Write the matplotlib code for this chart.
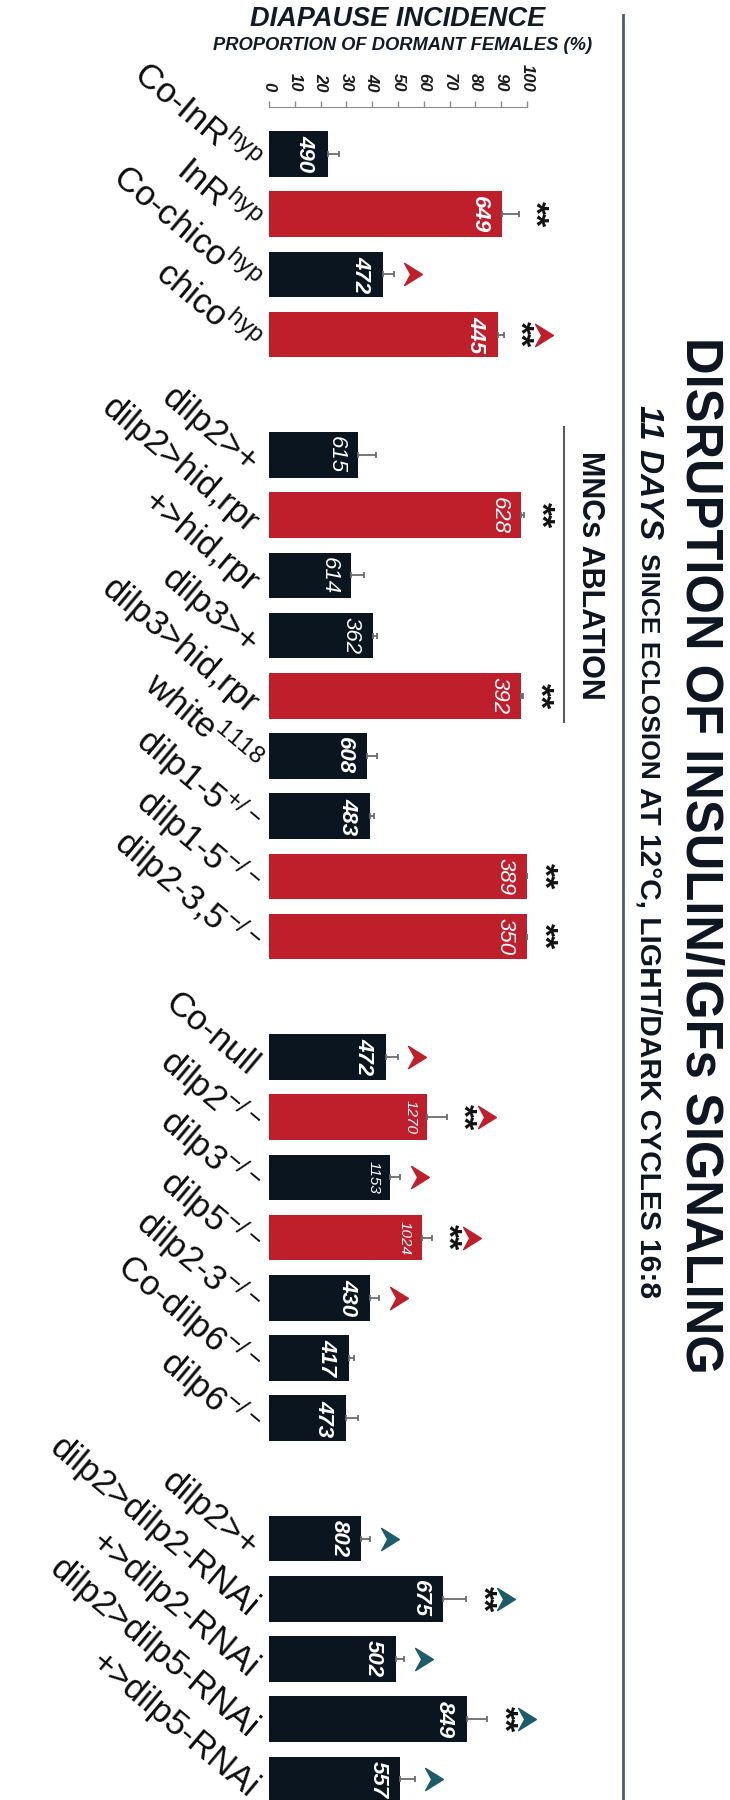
"""
Diapause incidence after disruption of insulin/IGF signalling (rotated bar chart)
"""
import numpy as np
import matplotlib.pyplot as plt
from matplotlib.lines import Line2D
from matplotlib.path import Path

plt.rcParams['font.family'] = ['Liberation Sans', 'DejaVu Sans']
plt.rcParams['mathtext.fontset'] = 'custom'
plt.rcParams['mathtext.rm'] = 'Liberation Sans'

# genotypes, top to bottom, in four blocks
group_sizes = [4, 9, 7, 5]
genotypes = [
    r"Co-InR$^{\mathregular{hyp}}$", r"InR$^{\mathregular{hyp}}$",
    r"Co-chico$^{\mathregular{hyp}}$", r"chico$^{\mathregular{hyp}}$",
    "dilp2>+", "dilp2>hid,rpr", "+>hid,rpr", "dilp3>+", "dilp3>hid,rpr",
    r"white$^{\mathregular{1118}}$", r"dilp1-5$^{\mathregular{+/-}}$",
    r"dilp1-5$^{\mathregular{-/-}}$", r"dilp2-3,5$^{\mathregular{-/-}}$",
    "Co-null", r"dilp2$^{\mathregular{-/-}}$", r"dilp3$^{\mathregular{-/-}}$",
    r"dilp5$^{\mathregular{-/-}}$", r"dilp2-3$^{\mathregular{-/-}}$",
    r"Co-dilp6$^{\mathregular{-/-}}$", r"dilp6$^{\mathregular{-/-}}$",
    "dilp2>+", "dilp2>dilp2-RNAi", "+>dilp2-RNAi", "dilp2>dilp5-RNAi", "+>dilp5-RNAi",
]
dormant_pct = [22.7, 90.3, 44.3, 88.7,
               34.5, 97.8, 31.8, 40.4, 97.6, 37.8, 39.0, 100, 100,
               45.5, 61.3, 46.9, 59.2, 39.3, 30.9, 30.0,
               35.8, 67.5, 49.1, 76.7, 50.9]
sem = [4.4, 6.5, 4.1, 2.2,
       7.0, 1.0, 5.1, 1.5, 1.0, 4.0, 1.8, 0, 0,
       4.5, 7.6, 4.0, 3.9, 3.4, 2.2, 4.5,
       3.5, 8.9, 3.3, 7.8, 5.5]
n_females = [490, 649, 472, 445,
             615, 628, 614, 362, 392, 608, 483, 389, 350,
             472, 1270, 1153, 1024, 430, 417, 473,
             802, 675, 502, 849, 557]
mutant = [0, 1, 0, 1,
          0, 1, 0, 0, 1, 0, 0, 1, 1,
          0, 1, 0, 1, 0, 0, 0,
          0, 0, 0, 0, 0]
significant = [0, 1, 0, 1,
               0, 1, 0, 0, 1, 0, 0, 1, 1,
               0, 1, 0, 1, 0, 0, 0,
               0, 1, 0, 1, 0]
# arrowhead markers: r = red, t = teal
arrow_mark = ['', '', 'r', 'r',
              '', '', '', '', '', '', '', '', '',
              'r', 'r', 'r', 'r', 'r', '', '',
              't', 't', 't', 't', 't']

NAVY = '#0b1520'
RED = '#bf1e2b'
TEAL = '#1c5b69'
regular_counts = {615, 628, 614, 362, 392, 389, 350}

# slot positions with one empty slot between blocks
pos = []
start = 0
for size in group_sizes:
    pos += list(range(start, start + size))
    start += size + 1
pos = np.array(pos)
vals = np.array(dormant_pct)
errs = np.array(sem)

W, H = 730, 1800
PX = 2.58   # pixels per percent
fig = plt.figure(figsize=(W / 100, H / 100), dpi=100)
ax = fig.add_axes([269 / W, 0, (625 - 269) / W, (H - 107) / H])
ax.set_xlim(0, (625 - 269) / PX)
ax.set_ylim((H - 154) / 60.2, (107 - 154) / 60.2)

colors = [RED if m else NAVY for m in mutant]
ax.barh(pos, vals, height=0.76, color=colors, clip_on=False)
ax.errorbar(vals, pos, xerr=[np.zeros_like(errs), errs], fmt='none',
            ecolor='#6b6b6b', elinewidth=1.3, capsize=2.5, capthick=1.3, clip_on=False)

arrow = Path([(0.8, 0), (-0.8, 1.0), (-0.25, 0), (-0.8, -1.0), (0.8, 0)],
             [Path.MOVETO, Path.LINETO, Path.LINETO, Path.LINETO, Path.CLOSEPOLY])

for p, v, e, n, lab, s, a in zip(pos, vals, errs, n_females, genotypes, significant, arrow_mark):
    ax.text(-6.0, p + 0.2, lab, rotation=-40, rotation_mode='anchor', ha='right',
            va='center', fontsize=25, color='#0d0d0d', clip_on=False)
    if n >= 1000:
        ax.annotate(str(n), (v, p), xytext=(-12, 0), textcoords='offset points', rotation=-90,
                    ha='center', va='center', color='white', fontsize=11, fontstyle='italic')
    else:
        ax.annotate(str(n), (v, p), xytext=(-16, 0), textcoords='offset points', rotation=-90,
                    ha='center', va='center', color='white', fontsize=16, fontstyle='italic',
                    fontweight='normal' if n in regular_counts else 'bold')
    x = v + e
    if s:
        x += 6.0
        ax.text(x, p, '**', rotation=-90, ha='center', va='center', fontsize=24,
                fontweight='bold', color='#111111', clip_on=False)
        x += 9.5
    else:
        x += 7.5
    if a:
        ax.plot([x], [p], linestyle='none', marker=arrow, markersize=16,
                color=RED if a == 'r' else TEAL, clip_on=False)

# top axis 0-100
ax.xaxis.set_ticks_position('top')
ax.set_xticks(range(0, 101, 10))
ax.tick_params(axis='x', direction='out', length=4, width=1, color='#8a8a8a',
               pad=7, labelsize=12, labelrotation=-90, labelcolor='#1a1a1a')
for t in ax.get_xticklabels():
    t.set_fontweight('bold')
    t.set_fontstyle('italic')
ax.set_yticks([])
for side in ['left', 'right', 'bottom']:
    ax.spines[side].set_visible(False)
ax.spines['top'].set_bounds(0, 100)
ax.spines['top'].set_color('#8a8a8a')

# headings
fig.text(398 / W, 1 - 19 / H, "DIAPAUSE INCIDENCE", ha='center', va='center',
         fontsize=19.5, fontweight='bold', fontstyle='italic', color='#121a26')
fig.text(403 / W, 1 - 46 / H, "PROPORTION OF DORMANT FEMALES (%)", ha='center', va='center',
         fontsize=13.2, fontweight='bold', fontstyle='italic', color='#121a26')

fig.text(699 / W, 1 - 855 / H, "DISRUPTION OF INSULIN/IGFs SIGNALING", rotation=-90,
         ha='center', va='center', fontsize=36.5, fontweight='bold', color='#0d1520')
fig.text(648 / W, 1 - 405 / H, "11 DAYS", rotation=-90, rotation_mode='anchor',
         ha='left', va='center', fontsize=24, fontweight='bold', fontstyle='italic', color='#0d1520')
fig.text(648 / W, 1 - 553 / H, "SINCE ECLOSION", rotation=-90, rotation_mode='anchor',
         ha='left', va='center', fontsize=19, fontweight='bold', color='#0d1520')
fig.text(648 / W, 1 - 787 / H, "AT 12°C, LIGHT/DARK CYCLES 16:8", rotation=-90, rotation_mode='anchor',
         ha='left', va='center', fontsize=21.5, fontweight='bold', color='#0d1520')
fig.text(590 / W, 1 - 575 / H, "MNCs ABLATION", rotation=-90, ha='center', va='center',
         fontsize=22, fontweight='bold', color='#0d1520')

fig.add_artist(Line2D([623 / W, 623 / W], [1 - 15 / H, 0], color='#4e5965', lw=2))
fig.add_artist(Line2D([564 / W, 564 / W], [1 - 427 / H, 1 - 722 / H], color='#5a5a5a', lw=1.5))

fig.savefig('out.png', dpi=100)
